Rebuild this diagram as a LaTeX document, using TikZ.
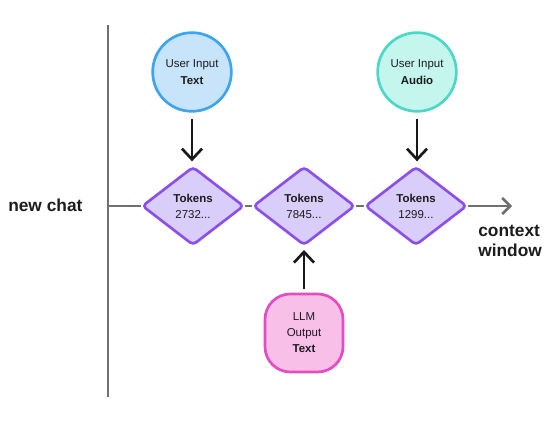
\documentclass[tikz,border=0pt]{standalone}
\usepackage{fontspec}
\setmainfont{Liberation Sans}
\usetikzlibrary{shapes.geometric,arrows.meta}
\definecolor{linegray}{HTML}{707070}
\definecolor{txt}{HTML}{1C1C1C}
\definecolor{dfill}{HTML}{D9CDFA}
\definecolor{ddraw}{HTML}{8B50EC}
\definecolor{bfill}{HTML}{C7E4FB}
\definecolor{bdraw}{HTML}{3DA5F0}
\definecolor{tfill}{HTML}{C5F6EE}
\definecolor{tdraw}{HTML}{4BD8C5}
\definecolor{pfill}{HTML}{F8BFE9}
\definecolor{pdraw}{HTML}{E64BBF}
\tikzset{
  tokbox/.style={diamond, draw=ddraw, fill=dfill, line width=2pt, rounded corners=3pt,
    minimum width=76.5pt, minimum height=59pt, inner sep=0pt, align=center, text=txt,
    font=\fontsize{8.6}{12}\selectfont},
  inbox/.style={circle, line width=2pt, minimum size=59pt, inner sep=0pt, align=center, text=txt,
    font=\fontsize{8.6}{12.75}\selectfont},
  outbox/.style={rectangle, rounded corners=19pt, draw=pdraw, fill=pfill, line width=2pt,
    minimum width=58.5pt, minimum height=58.5pt, inner sep=0pt, align=center, text=txt,
    font=\fontsize{8.6}{12}\selectfont},
  grayline/.style={draw=linegray, line width=1.9pt},
  feed/.style={draw=black!90, line width=2pt, -{Straight Barb[length=8pt,width=15pt,line width=2pt]}},
  lbl/.style={font=\bfseries\fontsize{13}{15}\selectfont, text=txt, align=left, inner sep=0pt}
}
\begin{document}
\begin{tikzpicture}[x=0.75pt,y=-0.75pt]
\useasboundingbox (0,0) rectangle (552,423);
% axis lines
\coordinate (vtop) at (108,25);
\coordinate (vbot) at (108,397);
\coordinate (hstart) at (108,206);
\coordinate (hend) at (512,206);
\draw[grayline] (vtop) -- (vbot);
% nodes
\node[tokbox] (d1) at (193,206) {\textbf{Tokens}\\2732...};
\node[tokbox] (d2) at (304,206) {\textbf{Tokens}\\7845...};
\node[tokbox] (d3) at (416,206) {\textbf{Tokens}\\1299...};
\node[inbox, draw=bdraw, fill=bfill] (u1) at (192,72) {User Input\\\textbf{Text}};
\node[inbox, draw=tdraw, fill=tfill] (u2) at (417,72) {User Input\\\textbf{Audio}};
\node[outbox] (llm) at (304,333) {LLM\\Output\\\textbf{Text}};
% horizontal chain
\draw[grayline] (hstart) -- (d1.west);
\draw[grayline] (d1.east) -- (d2.west);
\draw[grayline] (d2.east) -- (d3.west);
\draw[grayline, -{Straight Barb[length=6pt,width=12pt,line width=1.9pt]}] (d3.east) -- (hend);
% feeds
\draw[feed] ([yshift=-5pt]u1.south) -- ([yshift=3pt]u1.south |- d1.north);
\draw[feed] ([yshift=-5pt]u2.south) -- ([yshift=3pt]u2.south |- d3.north);
\draw[feed] ([yshift=3pt]llm.north) -- ([yshift=-2.5pt]d2.south);
% labels
\node[lbl, anchor=west] (nc) at (8,205) {new chat};
\node[lbl, anchor=north west] (cw) at (478,225) {context\\window};
\end{tikzpicture}
\end{document}
